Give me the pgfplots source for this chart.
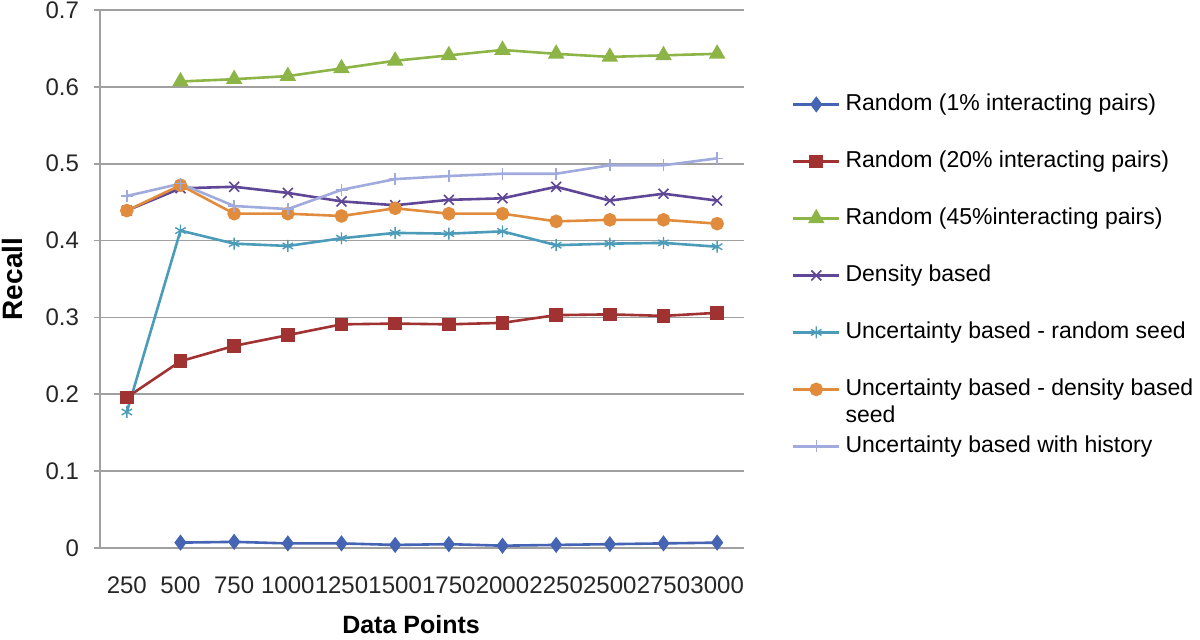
\documentclass[border=0pt]{standalone}
\usepackage{fontspec}
\setmainfont{Liberation Sans}
\usepackage{pgfplots}
\pgfplotsset{compat=1.18}

\definecolor{cA}{RGB}{70,100,180}
\definecolor{cB}{RGB}{160,50,50}
\definecolor{cC}{RGB}{140,180,70}
\definecolor{cD}{RGB}{95,70,150}
\definecolor{cE}{RGB}{75,155,185}
\definecolor{cF}{RGB}{225,140,60}
\definecolor{cG}{RGB}{160,170,220}
\definecolor{gridgray}{RGB}{160,160,160}

\begin{document}
\begin{tikzpicture}
\useasboundingbox (0,0) rectangle (600pt,319.5pt);
\begin{axis}[
  at={(50pt,45.5pt)}, anchor=south west,
  scale only axis, width=322pt, height=269pt,
  xmin=-0.5, xmax=11.5, ymin=0, ymax=0.7,
  axis x line*=bottom, axis y line*=left,
  axis line style={draw=gridgray, line width=0.9pt},
  xtick={0,...,11},
  xticklabels={250,500,750,1000,1250,1500,1750,2000,2250,2500,2750,3000},
  xtick style={draw=none},
  xticklabel style={yshift=-8pt},
  extra x ticks={-0.5,0.5,...,11.5},
  extra x tick labels={},
  extra x tick style={grid=none, tick align=outside, major tick length=4pt,
    tick style={draw=gridgray, line width=0.9pt}},
  ytick={0,0.1,...,0.7},
  ymajorgrids,
  y grid style={gridgray, line width=0.9pt},
  ytick style={draw=gridgray, line width=0.9pt},
  tick align=outside, major tick length=3pt,
  yticklabel style={xshift=-4pt},
  /pgf/number format/fixed,
  /pgf/number format/assume math mode=true,
  ticklabel style={font=\fontsize{12}{14}\selectfont, text=black!85},
  ylabel={Recall},
  ylabel style={font=\fontsize{14}{16}\selectfont\bfseries, at={(axis description cs:-0.1366,0.5)}, anchor=center},
  xlabel={Data Points},
  xlabel style={font=\fontsize{12.5}{14}\selectfont\bfseries, at={(axis description cs:0.483,-0.143)}, anchor=center},
  every axis plot/.append style={line width=1.3pt},
  legend image code/.code={\draw[mark repeat=2,mark phase=2] plot coordinates {(0pt,0pt) (11.5pt,0pt) (23pt,0pt)};},
  legend style={draw=none, fill=none, inner sep=0pt, outer sep=0pt,
    at={(axis description cs:1.0745,0.845)}, anchor=north west,
    font=\fontsize{11.5}{13.3}\selectfont,
    nodes={inner sep=0pt, text height=8.5pt, text depth=2.5pt},
    row sep=17.5pt,
    /tikz/every odd column/.append style={column sep=2.5pt}},
  legend cell align=left,
]
\addplot[cA, mark=diamond*, mark size=3pt, mark options={solid}] coordinates {
(1,0.007) (2,0.008) (3,0.006) (4,0.006) (5,0.004) (6,0.005) (7,0.003) (8,0.004) (9,0.005) (10,0.006) (11,0.007)};
\addlegendentry{Random (1\% interacting pairs)}
\addplot[cB, mark=square*, mark size=2.75pt, mark options={solid}] coordinates {
(0,0.196) (1,0.243) (2,0.263) (3,0.277) (4,0.291) (5,0.292) (6,0.291) (7,0.293) (8,0.303) (9,0.304) (10,0.302) (11,0.306)};
\addlegendentry{Random (20\% interacting pairs)}
\addplot[cC, mark=triangle*, mark size=3.5pt, mark options={solid}] coordinates {
(1,0.607) (2,0.610) (3,0.614) (4,0.624) (5,0.634) (6,0.641) (7,0.648) (8,0.643) (9,0.639) (10,0.641) (11,0.643)};
\addlegendentry{Random (45\%interacting pairs)}
\addplot[cD, mark=x, mark size=3.5pt, mark options={solid, line width=0.8pt}] coordinates {
(0,0.439) (1,0.468) (2,0.470) (3,0.462) (4,0.451) (5,0.446) (6,0.453) (7,0.455) (8,0.470) (9,0.452) (10,0.461) (11,0.452)};
\addlegendentry{Density based}
\addplot[cE, mark=asterisk, mark size=3pt, mark options={solid, line width=0.7pt}] coordinates {
(0,0.177) (1,0.413) (2,0.396) (3,0.393) (4,0.403) (5,0.410) (6,0.409) (7,0.412) (8,0.394) (9,0.396) (10,0.397) (11,0.392)};
\addlegendentry{Uncertainty based - random seed}
\addplot[cF, mark=*, mark size=2.75pt, mark options={solid}] coordinates {
(0,0.439) (1,0.472) (2,0.435) (3,0.435) (4,0.432) (5,0.442) (6,0.435) (7,0.435) (8,0.425) (9,0.427) (10,0.427) (11,0.422)};
\addlegendentry{\rlap{\raisebox{-13.3pt}[0pt][0pt]{seed}}Uncertainty based - density based}
\addplot[cG, mark=+, mark size=3pt, mark options={solid, line width=0.7pt}] coordinates {
(0,0.458) (1,0.474) (2,0.445) (3,0.441) (4,0.466) (5,0.480) (6,0.484) (7,0.487) (8,0.487) (9,0.498) (10,0.498) (11,0.507)};
\addlegendentry{Uncertainty based with history}
\end{axis}
\end{tikzpicture}
\end{document}
